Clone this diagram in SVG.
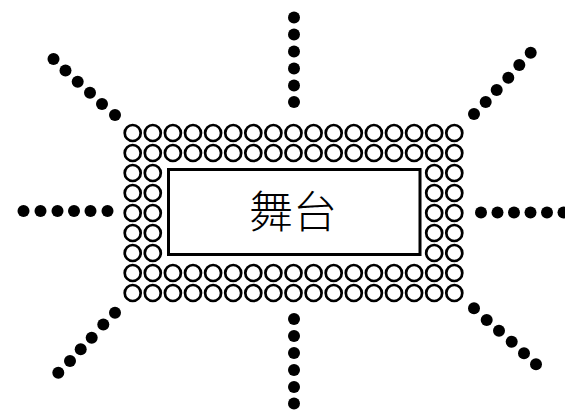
<svg xmlns="http://www.w3.org/2000/svg" xmlns:xlink="http://www.w3.org/1999/xlink" width="565" height="411" viewBox="0 0 565 411">
<style>
.seat{fill:none;stroke:#000;stroke-width:2.7}
.dot{fill:#000}
.stage{fill:#fff;stroke:#000;stroke-width:3}
.lbl{font-family:"Noto Sans CJK SC","Noto Sans CJK JP",sans-serif;font-size:44px;fill:#000;font-weight:300}
</style>
<defs>
<circle id="s" r="8" class="seat"/>
<circle id="d" r="6" class="dot"/>
<g id="row">
<use xlink:href="#s" x="132.7"/><use xlink:href="#s" x="152.8"/><use xlink:href="#s" x="172.9"/><use xlink:href="#s" x="193"/><use xlink:href="#s" x="213.1"/><use xlink:href="#s" x="233.2"/><use xlink:href="#s" x="253.3"/><use xlink:href="#s" x="273.4"/><use xlink:href="#s" x="293.5"/><use xlink:href="#s" x="313.6"/><use xlink:href="#s" x="333.7"/><use xlink:href="#s" x="353.8"/><use xlink:href="#s" x="373.9"/><use xlink:href="#s" x="394"/><use xlink:href="#s" x="414.1"/><use xlink:href="#s" x="434.2"/><use xlink:href="#s" x="454.3"/>
</g>
<g id="side">
<use xlink:href="#s" x="132.7"/><use xlink:href="#s" x="152.8"/><use xlink:href="#s" x="434.2"/><use xlink:href="#s" x="454.3"/>
</g>
</defs>
<g id="seats">
<use xlink:href="#row" y="133"/>
<use xlink:href="#row" y="153"/>
<use xlink:href="#side" y="173"/>
<use xlink:href="#side" y="193"/>
<use xlink:href="#side" y="213"/>
<use xlink:href="#side" y="233"/>
<use xlink:href="#side" y="253"/>
<use xlink:href="#row" y="273"/>
<use xlink:href="#row" y="293"/>
</g>
<g id="stage">
<rect class="stage" x="168.5" y="169.5" width="251.5" height="85"/>
<text class="lbl" x="293" y="228" text-anchor="middle">舞台</text>
</g>
<g id="rays">
<g id="ray-top"><use xlink:href="#d" x="294" y="17.5"/><use xlink:href="#d" x="294" y="34.5"/><use xlink:href="#d" x="294" y="51.5"/><use xlink:href="#d" x="294" y="68.5"/><use xlink:href="#d" x="294" y="85.5"/><use xlink:href="#d" x="294" y="102"/></g>
<g id="ray-bottom"><use xlink:href="#d" x="294" y="319"/><use xlink:href="#d" x="294" y="336"/><use xlink:href="#d" x="294" y="353"/><use xlink:href="#d" x="294" y="370"/><use xlink:href="#d" x="294" y="387"/><use xlink:href="#d" x="294" y="403.5"/></g>
<g id="ray-left"><use xlink:href="#d" x="23.5" y="211"/><use xlink:href="#d" x="40.5" y="211"/><use xlink:href="#d" x="57.5" y="211"/><use xlink:href="#d" x="74" y="211"/><use xlink:href="#d" x="90.5" y="211"/><use xlink:href="#d" x="107.5" y="211"/></g>
<g id="ray-right"><use xlink:href="#d" x="481" y="212.5"/><use xlink:href="#d" x="497.5" y="212.5"/><use xlink:href="#d" x="514" y="212.5"/><use xlink:href="#d" x="530.5" y="212.5"/><use xlink:href="#d" x="547" y="212.5"/><use xlink:href="#d" x="563.5" y="212.5"/></g>
<g id="ray-tl"><use xlink:href="#d" x="53.5" y="59"/><use xlink:href="#d" x="65.5" y="70.5"/><use xlink:href="#d" x="77.7" y="81.7"/><use xlink:href="#d" x="90" y="92.7"/><use xlink:href="#d" x="102" y="104"/><use xlink:href="#d" x="115" y="115"/></g>
<g id="ray-bl"><use xlink:href="#d" x="58.3" y="372.7"/><use xlink:href="#d" x="70" y="361"/><use xlink:href="#d" x="80.7" y="349.3"/><use xlink:href="#d" x="91.7" y="337.7"/><use xlink:href="#d" x="103.3" y="324.5"/><use xlink:href="#d" x="115" y="312.7"/></g>
<g id="ray-tr"><use xlink:href="#d" x="474" y="114"/><use xlink:href="#d" x="485.7" y="102"/><use xlink:href="#d" x="496.7" y="90"/><use xlink:href="#d" x="508.3" y="77.7"/><use xlink:href="#d" x="519.3" y="65"/><use xlink:href="#d" x="530.7" y="52.7"/></g>
<g id="ray-br"><use xlink:href="#d" x="474" y="308.3"/><use xlink:href="#d" x="486.7" y="320"/><use xlink:href="#d" x="499" y="330.7"/><use xlink:href="#d" x="511.7" y="341.7"/><use xlink:href="#d" x="524" y="353.3"/><use xlink:href="#d" x="536" y="364.3"/></g>
</g>
</svg>
